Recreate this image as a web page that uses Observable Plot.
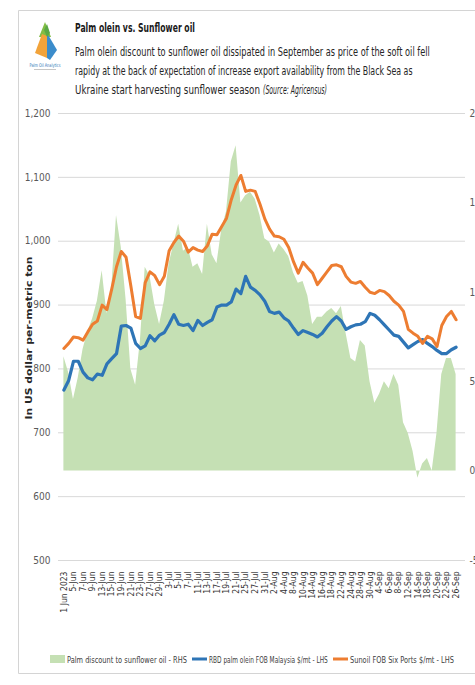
<!DOCTYPE html>
<html><head><meta charset="utf-8">
<script src="https://cdn.jsdelivr.net/npm/d3@7"></script>
<script src="https://cdn.jsdelivr.net/npm/@observablehq/plot@0.6"></script>
<style>
html,body{margin:0;padding:0;background:#fff;overflow:hidden}
#wrap{position:relative;width:475px;height:685px;overflow:hidden;font-family:"Liberation Sans Narrow","DejaVu Sans Condensed","Liberation Sans",sans-serif}
#chart{position:absolute;left:0;top:100px}
#deco{position:absolute;left:0;top:0}
</style></head><body>
<div id="wrap">
<svg id="deco" width="475" height="685" font-family='"Liberation Sans Narrow","DejaVu Sans Condensed","Liberation Sans",sans-serif'>
  <path d="M475 10.5 H18.5 V673.5 H475" fill="none" stroke="#d4d4d4" stroke-width="1"/>
  <g>
    <polygon points="45,22 39,37 51,37" fill="#82bd45"/>
    <polygon points="42,34 35,53 47,58 47,36" fill="#f2a33a"/>
    <polygon points="47,33 57,50 50,60 47,58" fill="#3b8ccb"/>
    <polygon points="44,30 47,24 50,33 47,37" fill="#5aa845"/>
    <line x1="34" y1="69.5" x2="56" y2="69.5" stroke="#b8b8b8" stroke-width="0.8"/>
  </g>
  <g id="header" fill="#262626"></g>
  <g id="legend"></g>
</svg>
<div id="chart"></div>
</div>
<script>
// ---------- text ----------
const logoText = "Palm Oil Analytics";
const titleText = "Palm olein vs. Sunflower oil";
const subtitleLines = [
  "Palm olein discount to sunflower oil dissipated in September as price of the soft oil fell",
  "rapidy at the back of expectation of increase export availability from the Black Sea as",
  "Ukraine start harvesting sunflower season"
];
const sourceText = "(Source: Agricensus)";
const yTitle = "In US dollar per-metric ton";
const seriesNames = ["Palm discount to sunflower oil - RHS", "RBD palm olein FOB Malaysia $/mt - LHS", "Sunoil FOB Six Ports $/mt - LHS"];
const seriesColors = ["#c5e0b4", "#2e75b6", "#ed7d31"];

// ---------- data ----------
const dates = ["1 Jun 2023","2-Jun","5-Jun","6-Jun","7-Jun","8-Jun","9-Jun","12-Jun","13-Jun","14-Jun","15-Jun","16-Jun",
  "19-Jun","20-Jun","21-Jun","22-Jun","23-Jun","26-Jun","27-Jun","28-Jun","29-Jun","30-Jun",
  "3-Jul","4-Jul","5-Jul","6-Jul","7-Jul","10-Jul","11-Jul","12-Jul","13-Jul","14-Jul","17-Jul","18-Jul","19-Jul","20-Jul","21-Jul",
  "24-Jul","25-Jul","26-Jul","27-Jul","28-Jul","31-Jul",
  "1-Aug","2-Aug","3-Aug","4-Aug","7-Aug","8-Aug","9-Aug","10-Aug","11-Aug","14-Aug","15-Aug","16-Aug","17-Aug","18-Aug",
  "21-Aug","22-Aug","23-Aug","24-Aug","25-Aug","28-Aug","29-Aug","30-Aug",
  "1-Sep","4-Sep","5-Sep","6-Sep","7-Sep","8-Sep","11-Sep","12-Sep","13-Sep","14-Sep","15-Sep","18-Sep","19-Sep","20-Sep","21-Sep","22-Sep","25-Sep","26-Sep"];

const tickLabels = ["1 Jun 2023","5-Jun","7-Jun","9-Jun","13-Jun","15-Jun","19-Jun","21-Jun","23-Jun","27-Jun","29-Jun",
  "3-Jul","5-Jul","7-Jul","11-Jul","13-Jul","17-Jul","19-Jul","21-Jul","25-Jul","27-Jul","31-Jul",
  "2-Aug","4-Aug","8-Aug","10-Aug","14-Aug","16-Aug","18-Aug","22-Aug","24-Aug","28-Aug","30-Aug",
  "4-Sep","6-Sep","8-Sep","12-Sep","14-Sep","18-Sep","20-Sep","22-Sep","26-Sep"];

// RBD palm olein FOB Malaysia, $/mt (LHS)
const palmOlein = [767,782,812,812,795,786,783,792,790,808,816,824,867,868,864,840,832,836,852,844,853,857,
  870,885,870,868,870,860,876,868,873,877,897,900,900,905,925,918,945,928,923,916,906,
  890,887,889,880,875,864,854,860,857,854,850,856,866,875,882,875,862,866,869,870,874,887,
  884,877,869,861,853,851,842,833,838,843,846,840,835,829,824,824,830,834];

// Sunoil FOB Six Ports, $/mt (LHS)
const sunoil = [832,840,850,849,845,858,870,875,900,893,925,960,984,975,930,882,879,935,952,946,932,945,
  985,998,1008,1000,983,990,986,984,993,1011,1010,1023,1036,1065,1088,1103,1078,1080,1078,1058,1035,
  1019,1008,1007,1003,990,968,950,967,958,950,932,942,952,962,963,960,945,936,934,937,928,920,
  918,923,921,915,906,900,890,862,856,851,840,851,847,835,868,882,890,877];

// Palm discount to sunflower oil (RHS)
const discount = [64,55,40,52,68,78,85,95,112,88,102,143,125,96,57,48,73,114,109,93,82,95,
  116,127,138,123,125,114,116,110,138,121,116,135,145,173,182,150,154,156,152,143,130,
  128,122,127,124,120,111,105,106,98,82,86,86,89,91,88,92,77,63,61,73,70,50,
  38,43,50,46,54,48,27,21,11,-4,4,7,0,21,54,63,63,54];

const leftTicks = [500,600,700,800,900,1000,1100,1200];
const rightTicks = [-50,0,50,100,150,200];

// ---------- helpers: RHS -> LHS mapping (both axes share the same height) ----------
const toL = r => 640 + r * 2.8;
const fromL = v => Math.round((v - 640) / 2.8);

const FONT = '"Liberation Sans Narrow","DejaVu Sans Condensed","Liberation Sans",sans-serif';
const rows = dates.map((d, i) => ({date: d, palm: palmOlein[i], sun: sunoil[i], disc: discount[i]}));

const chart = Plot.plot({
  width: 475, height: 545,
  marginTop: 13, marginBottom: 85, marginLeft: 58, marginRight: 10,
  style: {background: "transparent", fontFamily: FONT, fontSize: "10px", color: "#595959"},
  x: {type: "point", domain: dates, range: [61, 458]},
  y: {domain: [500, 1200]},
  marks: [
    Plot.ruleY(leftTicks, {stroke: "#d9d9d9", strokeWidth: 1}),
    Plot.areaY(rows, {x: "date", y1: toL(0), y2: d => toL(d.disc), fill: seriesColors[0], curve: "linear"}),
    Plot.lineY(rows, {x: "date", y: "palm", stroke: seriesColors[1], strokeWidth: 3.2, strokeLinejoin: "round"}),
    Plot.lineY(rows, {x: "date", y: "sun", stroke: seriesColors[2], strokeWidth: 3, strokeLinejoin: "round"}),
    Plot.axisY(leftTicks, {anchor: "left", tickSize: 0, tickPadding: 8, tickFormat: d3.format(","), label: null, fill: "#595959"}),
    Plot.axisY(rightTicks.map(toL), {anchor: "right", tickSize: 0, tickPadding: 4, tickFormat: v => String(fromL(v)), label: null, fill: "#595959"}),
    Plot.axisX(tickLabels, {anchor: "bottom", tickSize: 0, tickPadding: 11, tickRotate: -90, label: null, fill: "#333", fontSize: 8.5})
  ]
});
document.getElementById("chart").appendChild(chart);

// ---------- fitted text: squeeze horizontally to the reference's width ----------
function fitText(parent, str, x, y, target, attrs, rotate) {
  const t = parent.append("text").text(str);
  Object.entries(attrs || {}).forEach(([k, v]) => t.attr(k, v));
  const w = t.node().getComputedTextLength();
  const s = target / w;
  t.attr("transform", `translate(${x},${y})` + (rotate ? ` rotate(${rotate})` : "") + ` scale(${s},1)`);
  return t;
}

const header = d3.select("#header");
fitText(header, logoText, 45, 66.5, 31, {"font-size": 5, fill: "#2e75b6", "text-anchor": "middle"});
fitText(header, titleText, 75, 32, 120, {"font-size": 13, "font-weight": "bold", fill: "#1a1a1a"});
const lineLens = [355, 338, 185];
const lineYs = [55.5, 74.5, 93.5];
subtitleLines.forEach((t, i) => fitText(header, t, 75, lineYs[i], lineLens[i], {"font-size": 12.5}));
fitText(header, sourceText, 263, lineYs[2], 64, {"font-size": 12.5, "font-style": "italic"});
fitText(header, yTitle, 32, 338, 163, {"font-size": 9.5, "font-weight": "bold", "text-anchor": "middle"}, -90);

// ---------- legend ----------
const lg = d3.select("#legend");
const ly = 659;
lg.append("rect").attr("x", 50).attr("y", ly - 4).attr("width", 15).attr("height", 8).attr("fill", seriesColors[0]);
lg.append("line").attr("x1", 192).attr("x2", 207).attr("y1", ly).attr("y2", ly).attr("stroke", seriesColors[1]).attr("stroke-width", 3);
lg.append("line").attr("x1", 333).attr("x2", 348).attr("y1", ly).attr("y2", ly).attr("stroke", seriesColors[2]).attr("stroke-width", 3);
const lx = [67, 209, 350], lw = [120, 119, 104];
seriesNames.forEach((t, i) => fitText(lg, t, lx[i], ly + 3.5, lw[i], {"font-size": 9.5, fill: "#404040"}));
</script>
</body></html>
